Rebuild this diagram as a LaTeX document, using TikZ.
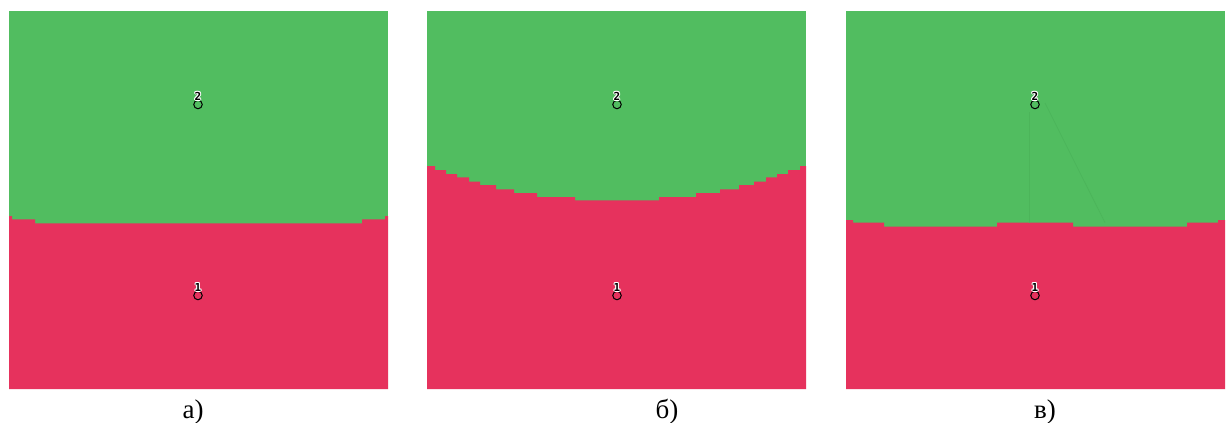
\documentclass[tikz,border=0pt]{standalone}
\usepackage{fontspec}
\setmainfont{Liberation Serif}
\newfontfamily\monob{DejaVu Sans Mono}
\definecolor{pgreen}{RGB}{81,189,96}
\definecolor{pred}{RGB}{230,50,93}
\definecolor{lgreen}{RGB}{76,181,90}
\begin{document}
\begin{tikzpicture}[x=1pt,y=-1pt,
  panel/.style={fill=pgreen},
  region/.style={fill=pred},
  site/.style={circle,draw=black,line width=1pt,minimum size=8.5pt,inner sep=0pt},
  caption/.style={font=\fontsize{27}{30}\selectfont,anchor=base},
  faint/.style={draw=lgreen,line width=0.7pt}]
\useasboundingbox (0,0) rectangle (1227,423);
\fill[white] (0,0) rectangle (1227,423);
\newcommand{\outlab}[2]{%
  \foreach \dx/\dy in {-1/0,1/0,0/-1,0/1,-0.8/-0.8,0.8/0.8,-0.8/0.8,0.8/-0.8}
    \node[text=white,font=\monob\bfseries\fontsize{11}{11}\selectfont,inner sep=0pt] at ([shift={(\dx,\dy)}]#1) {#2};
  \node[text=black,font=\monob\bfseries\fontsize{11}{11}\selectfont,inner sep=0pt] at (#1) {#2};}
% panel a
\fill[panel] (9,11) rectangle (388,389);
\fill[region] (9,389) -- (9,216) -- (12,216) -- (12,219.3) -- (35,219.3) -- (35,223.3) -- (362,223.3) -- (362,219.3) -- (385,219.3) -- (385,216) -- (388,216) -- (388,389) -- cycle;
% panel b
\fill[panel] (427,11) rectangle (806,389);
\fill[region] (427,389) -- (427,166) -- (435,166) -- (435,170) -- (446,170) -- (446,174) -- (457,174) -- (457,177.3) -- (469,177.3) -- (469,181.7) -- (480,181.7) -- (480,185) -- (496,185) -- (496,189.3) -- (514,189.3) -- (514,193) -- (537,193) -- (537,197) -- (575,197) -- (575,200.3) -- (659,200.3) -- (659,197) -- (696,197) -- (696,193) -- (720,193) -- (720,189.3) -- (739,189.3) -- (739,185) -- (754,185) -- (754,181.7) -- (766,181.7) -- (766,177.3) -- (777,177.3) -- (777,174) -- (788,174) -- (788,170) -- (800,170) -- (800,166) -- (806,166) -- (806,389) -- cycle;
% panel c
\fill[panel] (846,11) rectangle (1225,389);
\fill[region] (846,389) -- (846,220) -- (853,220) -- (853,222.7) -- (884,222.7) -- (884,226.7) -- (997,226.7) -- (997,222.7) -- (1073,222.7) -- (1073,226.7) -- (1187,226.7) -- (1187,222.7) -- (1218,222.7) -- (1218,220) -- (1225,220) -- (1225,389) -- cycle;
\coordinate (v1) at (1029,112);
\coordinate (v2) at (1029,222.7);
\coordinate (d1) at (1045,103);
\coordinate (d2) at (1105,222.7);
\draw[faint] (v1) -- (v2);
\draw[faint] (d1) -- (d2);
% sites
\foreach \n/\x in {a/198,b/617,c/1035}{
  \node[site] (\n2) at (\x,104.5) {};
  \node[site] (\n1) at (\x,295.5) {};
  \coordinate (\n2l) at (\x,96);
  \coordinate (\n1l) at (\x,287);
  \outlab{\n2l}{2}
  \outlab{\n1l}{1}
}
% captions
\node[caption] (ca) at (193,418) {а)};
\node[caption] (cb) at (667,418) {б)};
\node[caption] (cc) at (1045,418) {в)};
\end{tikzpicture}
\end{document}
